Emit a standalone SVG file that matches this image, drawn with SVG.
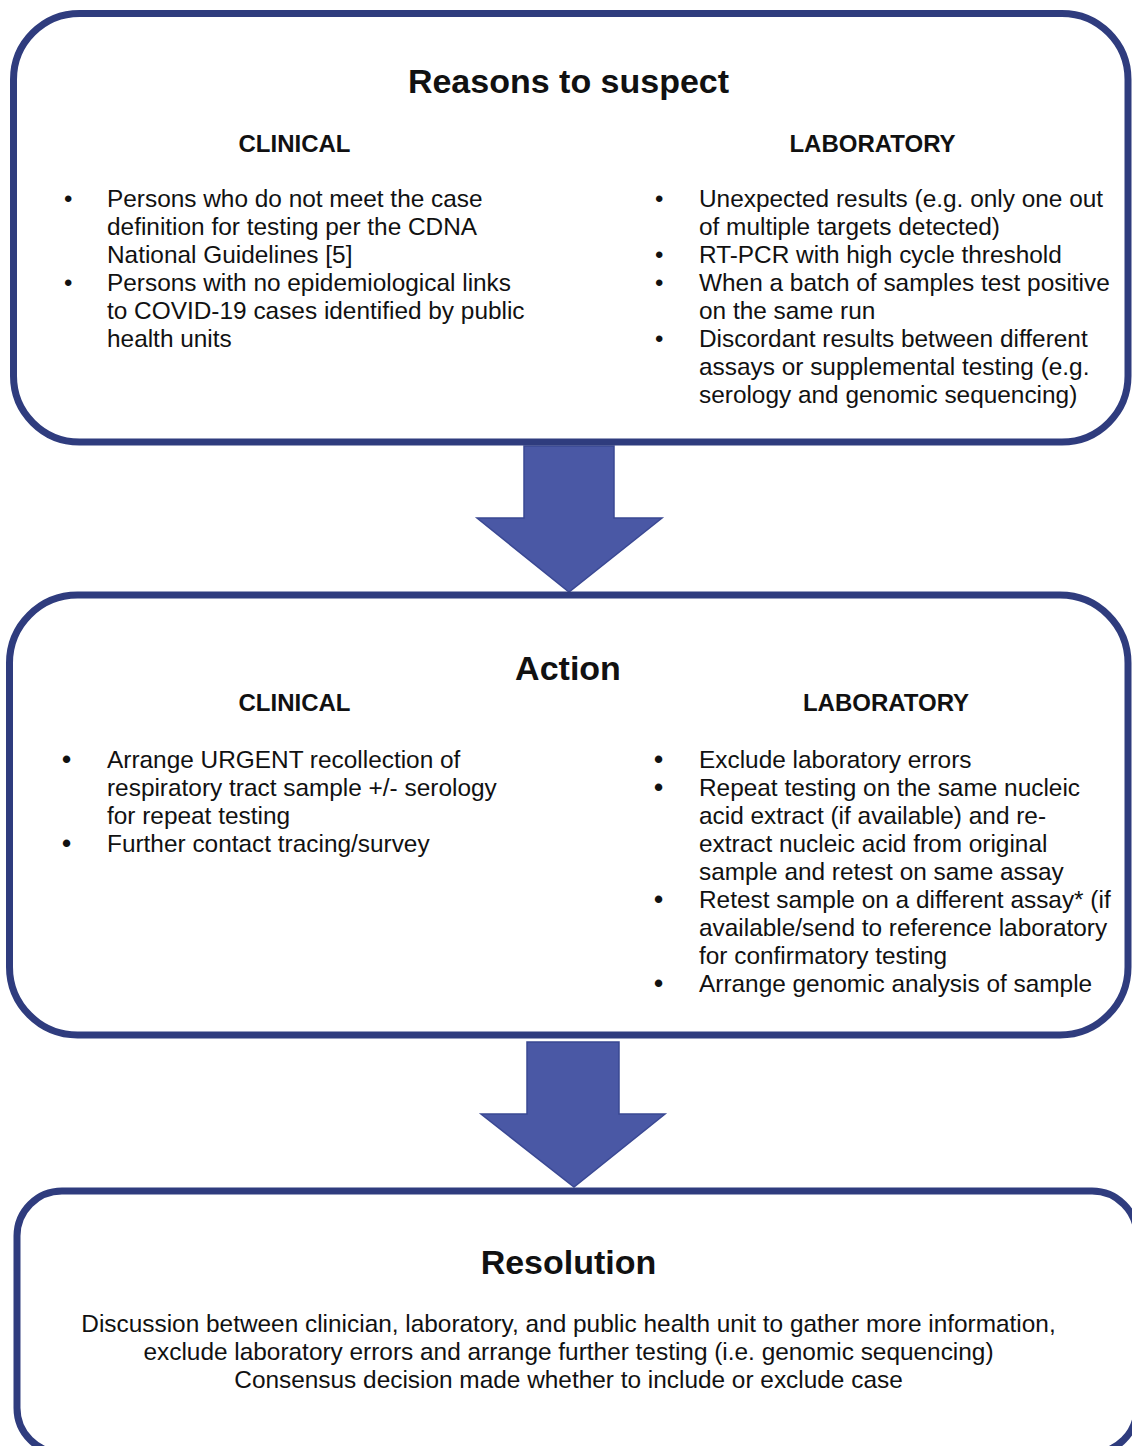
<svg xmlns="http://www.w3.org/2000/svg" width="1132" height="1446" viewBox="0 0 1132 1446">
<style>
.box{fill:#ffffff;stroke:#2F3C7E;stroke-width:7}
.arrow{fill:#4A58A5;stroke:#3A4893;stroke-width:1.5}
text{font-family:"Liberation Sans",Arial,sans-serif;fill:#111111}
.title{font-size:34px;font-weight:bold;text-anchor:middle}
.head{font-size:24px;font-weight:bold;text-anchor:middle}
.body text{font-size:24.4px}
.c{text-anchor:middle}
.b1{font-size:24px}
.b2{font-size:26px;font-weight:bold}
</style>
<rect width="1132" height="1446" fill="#ffffff"/>
<g id="connectors">
<polygon class="arrow" points="524,446 614,446 614,518 662,518 569,592 477,518 524,518"/>
<polygon class="arrow" points="527,1042 619,1042 619,1114 665,1114 574,1187 481,1114 527,1114"/>
</g>
<g id="reasons">
<rect class="box" x="13.5" y="13.5" width="1114.5" height="428.5" rx="66" ry="66"/>
<text class="title" x="568.5" y="93">Reasons to suspect</text>
<text class="head" x="294.5" y="152">CLINICAL</text>
<text class="head" x="872.5" y="152">LABORATORY</text>
<g class="body">
<text x="64" y="207"><tspan class="b1">•</tspan><tspan x="107">Persons who do not meet the case</tspan></text>
<text x="107" y="235">definition for testing per the CDNA</text>
<text x="107" y="263">National Guidelines [5]</text>
<text x="64" y="291"><tspan class="b1">•</tspan><tspan x="107">Persons with no epidemiological links</tspan></text>
<text x="107" y="319">to COVID-19 cases identified by public</text>
<text x="107" y="347">health units</text>
<text x="655" y="207"><tspan class="b1">•</tspan><tspan x="699">Unexpected results (e.g. only one out</tspan></text>
<text x="699" y="235">of multiple targets detected)</text>
<text x="655" y="263"><tspan class="b1">•</tspan><tspan x="699">RT-PCR with high cycle threshold</tspan></text>
<text x="655" y="291"><tspan class="b1">•</tspan><tspan x="699">When a batch of samples test positive</tspan></text>
<text x="699" y="319">on the same run</text>
<text x="655" y="347"><tspan class="b1">•</tspan><tspan x="699">Discordant results between different</tspan></text>
<text x="699" y="375">assays or supplemental testing (e.g.</text>
<text x="699" y="403">serology and genomic sequencing)</text>
</g>
</g>
<g id="action">
<rect class="box" x="9.5" y="595" width="1118.5" height="440" rx="68" ry="68"/>
<text class="title" x="568" y="680">Action</text>
<text class="head" x="294.5" y="711">CLINICAL</text>
<text class="head" x="886" y="711">LABORATORY</text>
<g class="body">
<text x="62" y="768"><tspan class="b2">•</tspan><tspan x="107">Arrange URGENT recollection of</tspan></text>
<text x="107" y="796">respiratory tract sample +/- serology</text>
<text x="107" y="824">for repeat testing</text>
<text x="62" y="852"><tspan class="b2">•</tspan><tspan x="107">Further contact tracing/survey</tspan></text>
<text x="654" y="768"><tspan class="b2">•</tspan><tspan x="699">Exclude laboratory errors</tspan></text>
<text x="654" y="796"><tspan class="b2">•</tspan><tspan x="699">Repeat testing on the same nucleic</tspan></text>
<text x="699" y="824">acid extract (if available) and re-</text>
<text x="699" y="852">extract nucleic acid from original</text>
<text x="699" y="880">sample and retest on same assay</text>
<text x="654" y="908"><tspan class="b2">•</tspan><tspan x="699">Retest sample on a different assay* (if</tspan></text>
<text x="699" y="936">available/send to reference laboratory</text>
<text x="699" y="964">for confirmatory testing</text>
<text x="654" y="992"><tspan class="b2">•</tspan><tspan x="699">Arrange genomic analysis of sample</tspan></text>
</g>
</g>
<g id="resolution">
<rect class="box" x="17" y="1191" width="1120" height="262" rx="45" ry="45"/>
<text class="title" x="568.5" y="1274">Resolution</text>
<g class="body">
<text class="c" x="568.5" y="1332">Discussion between clinician, laboratory, and public health unit to gather more information,</text>
<text class="c" x="568.5" y="1360">exclude laboratory errors and arrange further testing (i.e. genomic sequencing)</text>
<text class="c" x="568.5" y="1388">Consensus decision made whether to include or exclude case</text>
</g>
</g>
</svg>
